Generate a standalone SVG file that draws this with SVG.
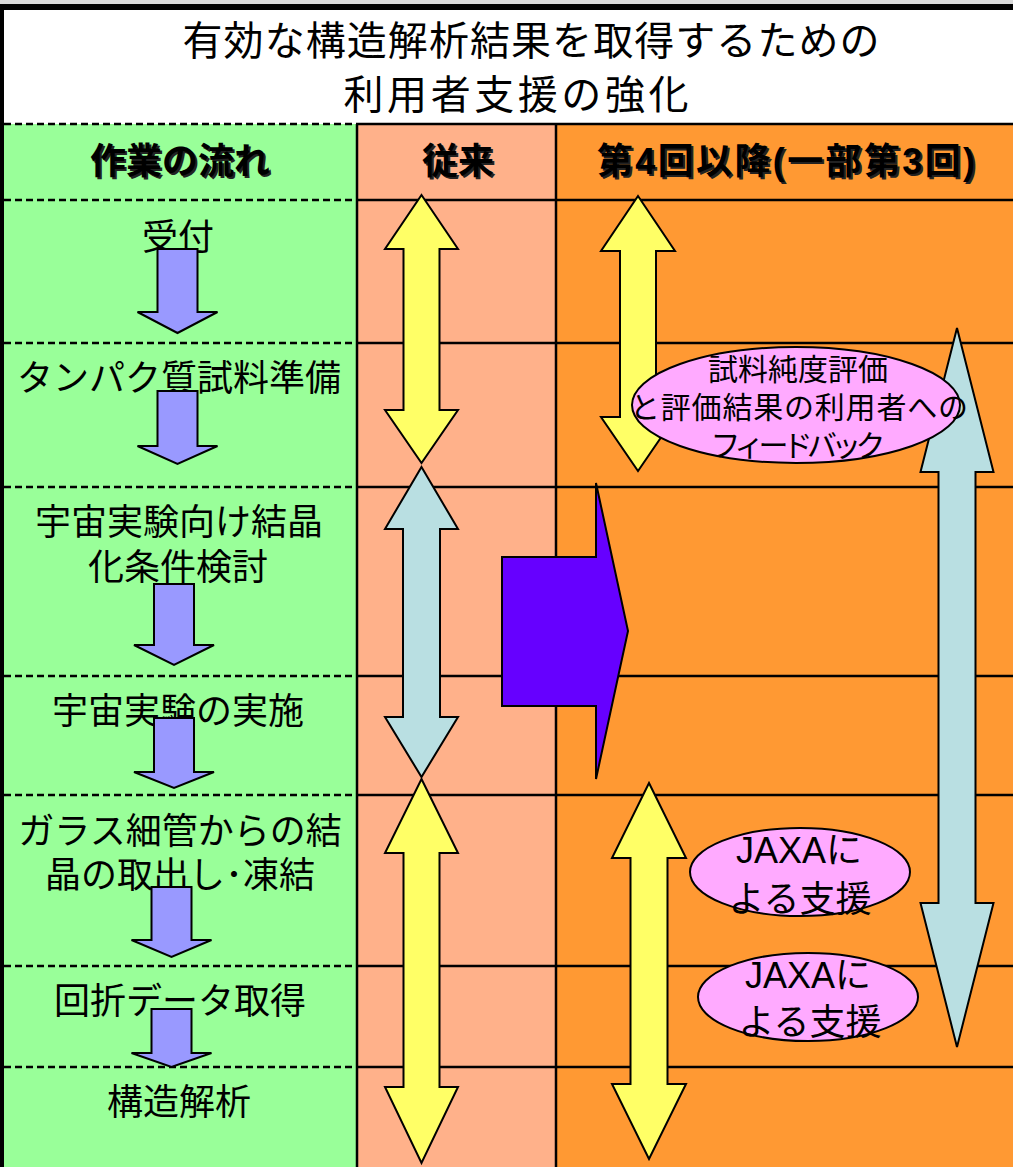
<svg xmlns="http://www.w3.org/2000/svg" width="1013" height="1167" viewBox="0 0 1013 1167">
<style>
.t{font-family:"Liberation Sans","Noto Sans CJK JP",sans-serif;fill:#000;text-anchor:middle}
.flow{font-size:36px}
.hd{font-size:36px;font-weight:bold}
.hds{font-size:36px;font-weight:bold;fill:#222}
.ttl{font-size:40px}
.el{font-size:30px}
.jx{font-size:36px}
.sk{stroke:#000;stroke-width:2;stroke-linejoin:miter}
.yel{fill:#FFFF66}
.cyan{fill:#B9DFE2}
.blue{fill:#9999FF}
.pink{fill:#FFAAFF}
.solid{stroke:#000;stroke-width:2.5}
.dash{stroke:#000;stroke-width:2.5;stroke-dasharray:7 4}
</style>
<rect x="0" y="0" width="1013" height="1167" fill="#FFFFFF"/>
<g id="backgrounds">
<rect x="0" y="0" width="1013" height="4" fill="#D9D9D9"/>
<rect x="0" y="4" width="1013" height="6" fill="#000"/>
<rect x="0" y="124" width="357" height="1043" fill="#99FF99"/>
<rect x="357" y="124" width="199" height="1043" fill="#FFB18A"/>
<rect x="556" y="124" width="457" height="1043" fill="#FF9933"/>
<rect x="0" y="4" width="4" height="1163" fill="#000"/>
</g>
<g id="grid">
<line class="dash" x1="4" y1="124" x2="357" y2="124"/>
<line class="solid" x1="357" y1="124" x2="1013" y2="124"/>
<line class="dash" x1="4" y1="200" x2="357" y2="200"/>
<line class="solid" x1="357" y1="200" x2="1013" y2="200"/>
<line class="dash" x1="4" y1="343" x2="357" y2="343"/>
<line class="solid" x1="357" y1="343" x2="1013" y2="343"/>
<line class="dash" x1="4" y1="487" x2="357" y2="487"/>
<line class="solid" x1="357" y1="487" x2="1013" y2="487"/>
<line class="dash" x1="4" y1="676" x2="357" y2="676"/>
<line class="solid" x1="357" y1="676" x2="1013" y2="676"/>
<line class="dash" x1="4" y1="795" x2="357" y2="795"/>
<line class="solid" x1="357" y1="795" x2="1013" y2="795"/>
<line class="dash" x1="4" y1="966" x2="357" y2="966"/>
<line class="solid" x1="357" y1="966" x2="1013" y2="966"/>
<line class="dash" x1="4" y1="1067" x2="357" y2="1067"/>
<line class="solid" x1="357" y1="1067" x2="1013" y2="1067"/>
<line class="solid" x1="357" y1="124" x2="357" y2="1167"/>
<line class="solid" x1="556" y1="124" x2="556" y2="1167"/>
</g>
<g id="title">
<text class="t ttl" x="531" y="55" textLength="697" lengthAdjust="spacing">有効な構造解析結果を取得するための</text>
<text class="t ttl" x="516" y="109" textLength="345" lengthAdjust="spacing">利用者支援の強化</text>
</g>
<g id="header">
<text class="t hds" x="182" y="176">作業の流れ</text>
<text class="t hd" x="180" y="174">作業の流れ</text>
<text class="t hds" x="460" y="176">従来</text>
<text class="t hd" x="458" y="174">従来</text>
<text class="t hds" x="788" y="176" textLength="378" lengthAdjust="spacing">第4回以降(一部第3回)</text>
<text class="t hd" x="786" y="174" textLength="378" lengthAdjust="spacing">第4回以降(一部第3回)</text>
</g>
<g id="step-uketsuke"><text class="t flow" x="178" y="250">受付</text></g>
<g id="step-sample"><text class="t flow" x="179" y="391">タンパク質試料準備</text></g>
<g id="step-condition"><text class="t flow" x="179" y="535">宇宙実験向け結晶</text><text class="t flow" x="178" y="580">化条件検討</text></g>
<g id="step-space"><text class="t flow" x="178" y="724">宇宙実験の実施</text></g>
<g id="step-harvest"><text class="t flow" x="180" y="844">ガラス細管からの結</text><text class="t flow" x="180" y="888">晶の取出し･凍結</text></g>
<g id="step-data"><text class="t flow" x="180" y="1014">回折データ取得</text></g>
<g id="step-analysis"><text class="t flow" x="179" y="1115">構造解析</text></g>
<g id="connectors">
<polygon class="sk blue" points="157.5,249 197.5,249 197.5,312 217.5,312 177.5,333 137.5,312 157.5,312"/>
<polygon class="sk blue" points="157.5,391 197.5,391 197.5,446 217.5,446 177.5,464 137.5,446 157.5,446"/>
<polygon class="sk blue" points="154,584 194,584 194,645 214,645 174,665 134,645 154,645"/>
<polygon class="sk blue" points="154,718 194,718 194,772 214,772 174,788 134,772 154,772"/>
<polygon class="sk blue" points="151.5,887 191.5,887 191.5,940 211.5,940 171.5,957 131.5,940 151.5,940"/>
<polygon class="sk blue" points="151.5,1009 191.5,1009 191.5,1053 211.5,1053 171.5,1067 131.5,1053 151.5,1053"/>
</g>
<g id="conventional-arrows">
<polygon class="sk yel" points="421.5,195 458,249 439.5,249 439.5,410 458,410 421.5,463 385,410 403.5,410 403.5,249 385,249"/>
<polygon class="sk cyan" points="421.5,467 458,529 440,529 440,717 458,717 421.5,777 385,717 403,717 403,529 385,529"/>
<polygon class="sk yel" points="421.5,779 458,853 439.5,853 439.5,1087 458,1087 421.5,1163 385,1087 403.5,1087 403.5,853 385,853"/>
</g>
<g id="transition-arrow">
<polygon class="sk" fill="#6600FF" points="502,557 596,557 596,483 628,631 596,779 596,706 502,706"/>
</g>
<g id="new-arrows">
<polygon class="sk yel" points="638,196 675,251 656,251 656,417 675,417 638,471 601,417 620,417 620,251 601,251"/>
<polygon class="sk cyan" points="957,328 993.5,472 975.5,472 975.5,903 993.5,903 957,1047 920.5,903 938.5,903 938.5,472 920.5,472"/>
<polygon class="sk yel" points="649,783 686,858 667.5,858 667.5,1084 686,1084 649,1159 612,1084 630.5,1084 630.5,858 612,858"/>
</g>
<g id="feedback">
<ellipse class="sk pink" cx="796" cy="405" rx="164" ry="58"/>
<text class="t el" x="798" y="380">試料純度評価</text>
<text class="t el" x="799" y="418" textLength="338" lengthAdjust="spacing">と評価結果の利用者への</text>
<text class="t el" x="798" y="456" textLength="175" lengthAdjust="spacing">フィードバック</text>
</g>
<g id="jaxa-support-1">
<ellipse class="sk pink" cx="800" cy="872" rx="110" ry="44"/>
<text class="t jx" x="799" y="863">JAXAに</text>
<text class="t jx" x="800" y="912">よる支援</text>
</g>
<g id="jaxa-support-2">
<ellipse class="sk pink" cx="808" cy="997" rx="110" ry="44"/>
<text class="t jx" x="808" y="988">JAXAに</text>
<text class="t jx" x="810" y="1035">よる支援</text>
</g>
</svg>
